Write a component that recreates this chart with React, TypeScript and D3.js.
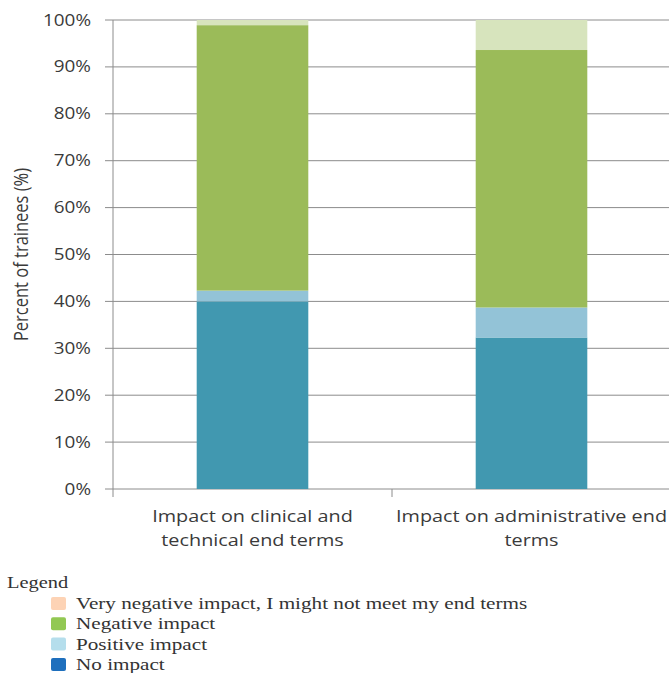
import React from "react";
import * as d3 from "d3";

// Survey categories and stacked shares (fractions of trainees)
const categories = [
  ["Impact on clinical and", "technical end terms"],
  ["Impact on administrative end", "terms"],
];
const seriesKeys = ["noImpact", "positive", "negative", "veryNegative"];
const noImpact = [0.40, 0.323];
const positiveImpact = [0.023, 0.064];
const negativeImpact = [0.566, 0.549];
const veryNegativeImpact = [0.011, 0.064];
const yTicks = [0, 0.1, 0.2, 0.3, 0.4, 0.5, 0.6, 0.7, 0.8, 0.9, 1.0];

const legendLabels = [
  "Very negative impact, I might not meet my end terms",
  "Negative impact",
  "Positive impact",
  "No impact",
];
const legendColors = ["#fdd3b5", "#92c853", "#b5deec", "#1e6fbd"];
const barColors: Record<string, string> = {
  noImpact: "#4198b0",
  positive: "#93c3d7",
  negative: "#9bbb59",
  veryNegative: "#d7e4bd",
};

const W = 669;
const H = 673;
const plot = { left: 113, right: 671, top: 20, bottom: 489 };
// text is drawn slightly widened horizontally
const SX = 1.22;

export default function App() {
  const rows = categories.map((c, i) => ({
    key: String(i),
    noImpact: noImpact[i],
    positive: positiveImpact[i],
    negative: negativeImpact[i],
    veryNegative: veryNegativeImpact[i],
  }));
  const stacked = d3.stack<any>().keys(seriesKeys)(rows);

  const x = d3
    .scaleBand<string>()
    .domain(rows.map((r) => r.key))
    .range([plot.left, plot.right])
    .padding(0);
  const y = d3.scaleLinear().domain([0, 1]).range([plot.bottom, plot.top]);
  const barW = x.bandwidth() * 0.4;
  const barX = (k: string) => (x(k) as number) + (x.bandwidth() - barW) / 2;

  const axisFont = "'Open Sans', 'Noto Sans', sans-serif";
  const serif = "'Liberation Serif', 'DejaVu Serif', serif";

  return (
    <svg
      width={W}
      height={H}
      style={{ position: "absolute", left: 0, top: 0, background: "#fff" }}
    >
      {/* horizontal gridlines + y ticks */}
      {yTicks.map((t) => (
        <g key={t}>
          <line
            x1={plot.left - 8}
            x2={plot.right}
            y1={y(t)}
            y2={y(t)}
            stroke="#8c8c8c"
            strokeWidth={1}
          />
          <g transform={`translate(91, ${y(t)}) scale(${SX}, 1)`}>
            <text
              dy="0.36em"
              textAnchor="end"
              fontFamily={axisFont}
              fontSize={15.5}
              fill="#3a3a3a"
            >
              {d3.format(".0%")(t)}
            </text>
          </g>
        </g>
      ))}

      {/* stacked bars */}
      {stacked.map((s) =>
        s.map((d, i) => (
          <rect
            key={s.key + i}
            x={barX(rows[i].key)}
            y={y(d[1])}
            width={barW}
            height={y(d[0]) - y(d[1])}
            fill={barColors[s.key]}
          />
        ))
      )}

      {/* y axis line */}
      <line
        x1={plot.left}
        x2={plot.left}
        y1={plot.top}
        y2={plot.bottom + 8}
        stroke="#8c8c8c"
      />
      {/* category separators */}
      {rows.map((r) => (
        <line
          key={"sep" + r.key}
          x1={(x(r.key) as number) + x.bandwidth()}
          x2={(x(r.key) as number) + x.bandwidth()}
          y1={plot.bottom}
          y2={plot.bottom + 8}
          stroke="#8c8c8c"
        />
      ))}

      {/* category labels */}
      {rows.map((r, i) => (
        <g
          key={"cat" + r.key}
          transform={`translate(${(x(r.key) as number) + x.bandwidth() / 2}, 522) scale(1.24, 1)`}
        >
          <text
            textAnchor="middle"
            fontFamily={axisFont}
            fontSize={16}
            fill="#3a3a3a"
          >
            {categories[i].map((line, j) => (
              <tspan key={j} x={0} dy={j === 0 ? 0 : 24}>
                {line}
              </tspan>
            ))}
          </text>
        </g>
      ))}

      {/* y axis title */}
      <g transform={`translate(28, ${(plot.top + plot.bottom) / 2}) scale(${SX}, 1) rotate(-90)`}>
        <text
          textAnchor="middle"
          fontFamily={axisFont}
          fontSize={16.5}
          fill="#3a3a3a"
        >
          Percent of trainees (%)
        </text>
      </g>

      {/* legend */}
      <g transform={`translate(7, 588) scale(1.2, 1)`}>
        <text fontFamily={serif} fontSize={17} fill="#333">
          Legend
        </text>
      </g>
      {legendLabels.map((lab, i) => (
        <g key={lab} transform={`translate(51, ${597 + i * 20.3})`}>
          <rect width={15} height={13} rx={2} fill={legendColors[i]} />
          <g transform={`translate(25, 12) scale(1.21, 1)`}>
            <text fontFamily={serif} fontSize={17.5} fill="#333">
              {lab}
            </text>
          </g>
        </g>
      ))}
    </svg>
  );
}
